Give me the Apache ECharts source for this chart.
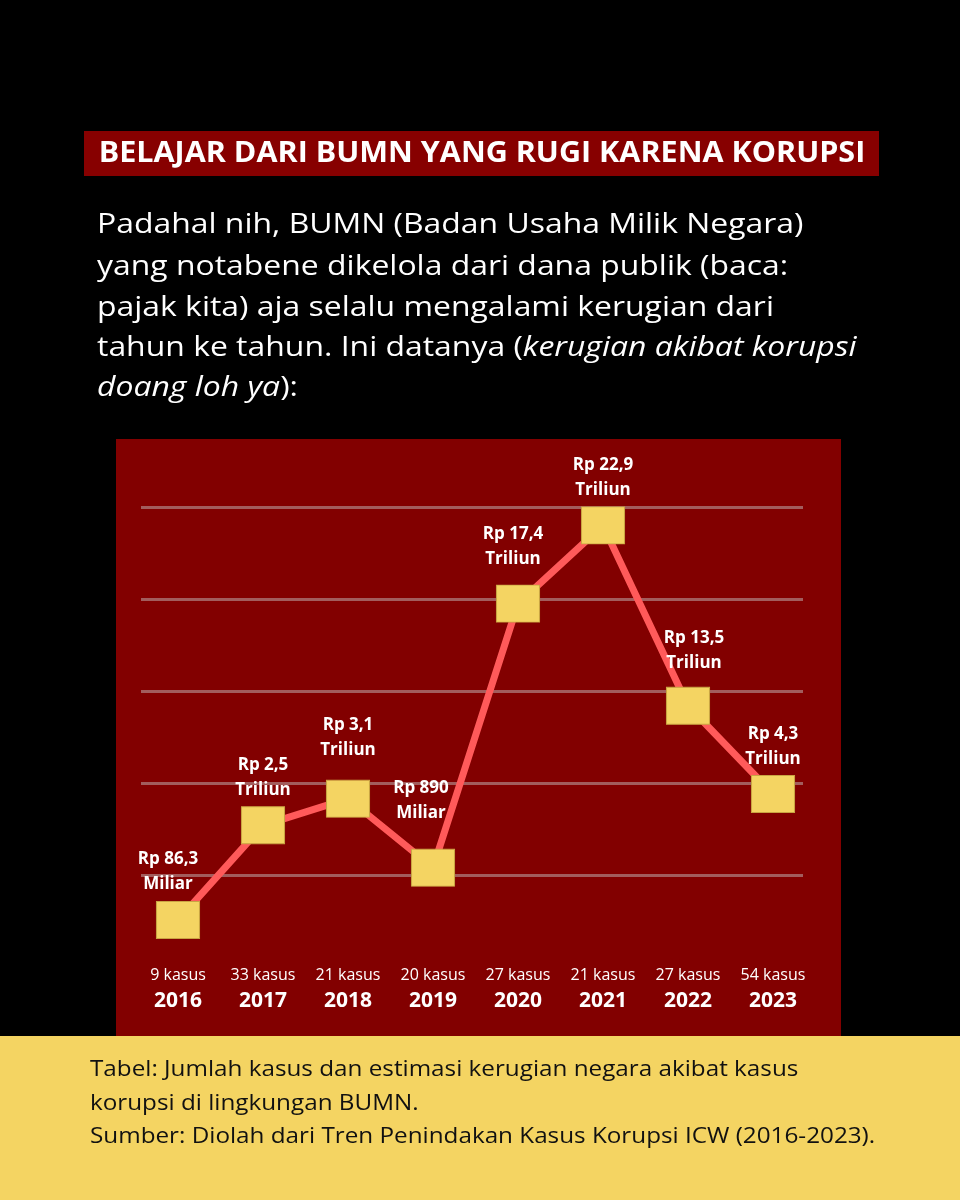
<!DOCTYPE html>
<html><head><meta charset="utf-8">
<script src="https://cdn.jsdelivr.net/npm/echarts@6/dist/echarts.min.js"></script>
<style>html,body{margin:0;padding:0;background:#000}#c{width:960px;height:1200px}</style>
</head><body><div id="c"></div>
<script>
// ---- data ----
const years = ['2016', '2017', '2018', '2019', '2020', '2021', '2022', '2023'];
const cases = [9, 33, 21, 20, 27, 21, 27, 54];
const lossValue = [86.3, 2.5, 3.1, 890, 17.4, 22.9, 13.5, 4.3];
const lossUnit = ['Miliar', 'Triliun', 'Triliun', 'Miliar', 'Triliun', 'Triliun', 'Triliun', 'Triliun'];
// the infographic is not to scale: plotted height of each marker, read in gridline units
const plotLevel = [0.51, 1.54, 1.83, 1.08, 3.95, 4.80, 2.84, 1.88];

// ---- layout / styling (not data) ----
const labelOffset = [[-10, 0], [0, 0], [0, -13], [-12, -19], [-5, -9], [0, 0], [6, -7], [0, 1]];
const FONT = "'Open Sans', sans-serif";

const chart = echarts.init(document.getElementById('c'), null, {renderer: 'canvas'});

const seriesData = plotLevel.map((v, i) => ({
  value: v,
  label: {offset: labelOffset[i]}
}));

const para = [
  {t: 'Padahal nih, BUMN (Badan Usaha Milik Negara)', y: 225},
  {t: 'yang notabene dikelola dari dana publik (baca:', y: 267},
  {t: 'pajak kita) aja selalu mengalami kerugian dari', y: 308},
  {t: 'tahun ke tahun. Ini datanya ({i|kerugian akibat korupsi}', y: 348},
  {t: '{i|doang loh ya}):', y: 388}
];

const foot = [
  {t: 'Tabel: Jumlah kasus dan estimasi kerugian negara akibat kasus', y: 1070},
  {t: 'korupsi di lingkungan BUMN.', y: 1104},
  {t: 'Sumber: Diolah dari Tren Penindakan Kasus Korupsi ICW (2016-2023).', y: 1137}
];

const graphics = [
  {type: 'rect', shape: {x: 84, y: 131, width: 795, height: 45}, style: {fill: '#870000'}, z: -10},
  {type: 'text', x: 482, y: 154, scaleX: 1.09,
    style: {x: 0, y: 0, text: 'BELAJAR DARI BUMN YANG RUGI KARENA KORUPSI', fill: '#fff',
    font: "bold 28px 'Open Sans', sans-serif", textAlign: 'center', textVerticalAlign: 'middle'}},
  {type: 'rect', shape: {x: 116, y: 439, width: 725, height: 597}, style: {fill: '#820000'}, z: -10},
  {type: 'rect', shape: {x: 0, y: 1036, width: 960, height: 164}, style: {fill: '#F4D462'}, z: -10}
];
para.forEach(p => graphics.push({
  type: 'text', x: 97, y: p.y, scaleX: 1.14,
  style: {
    x: 0, y: 0, text: p.t, fill: '#fff', fontFamily: 'Open Sans', fontSize: 28,
    textVerticalAlign: 'middle',
    rich: {i: {fontStyle: 'italic', fontFamily: 'Open Sans', fontSize: 28, fill: '#fff'}}
  }
}));
foot.forEach(p => graphics.push({
  type: 'text', x: 90, y: p.y, scaleX: 1.155,
  style: {x: 0, y: 0, text: p.t, fill: '#111', font: "21px 'Open Sans', sans-serif", textVerticalAlign: 'middle'}
}));

chart.setOption({
  backgroundColor: '#000',
  animation: false,
  graphic: graphics,
  grid: [
    {left: 141, width: 662, top: 507, height: 368},
    {left: 178, width: 595, top: 507, height: 460}
  ],
  xAxis: [
    {gridIndex: 0, type: 'value', min: 0, max: 1, show: false},
    {
      gridIndex: 1, type: 'category', data: years, boundaryGap: false,
      axisLine: {show: false}, axisTick: {show: false}, splitLine: {show: false},
      axisLabel: {
        margin: -3, interval: 0,
        formatter: (val, idx) => `{a|${cases[idx]} kasus}\n{b|${val}}`,
        rich: {
          a: {color: '#fff', fontSize: 16, fontFamily: FONT, lineHeight: 22},
          b: {color: '#fff', fontSize: 21, fontWeight: 'bold', fontFamily: FONT, lineHeight: 30}
        }
      }
    }
  ],
  yAxis: [
    {
      gridIndex: 0, type: 'value', min: 1, max: 5, interval: 1,
      axisLine: {show: false}, axisTick: {show: false}, axisLabel: {show: false},
      splitLine: {show: true, lineStyle: {color: 'rgba(190,170,170,0.55)', width: 3}}
    },
    {gridIndex: 1, type: 'value', min: 0, max: 5, show: false, splitLine: {show: false}}
  ],
  series: [{
    type: 'line',
    xAxisIndex: 1, yAxisIndex: 1,
    data: seriesData,
    symbol: 'rect', symbolSize: [43, 37],
    itemStyle: {color: '#F4D462', borderColor: '#C9A443', borderWidth: 1},
    lineStyle: {color: '#FF5A5A', width: 7},
    label: {
      show: true, position: 'top', distance: 4,
      color: '#fff', fontFamily: FONT, fontWeight: 'bold', fontSize: 17, lineHeight: 25,
      align: 'center',
      formatter: p => 'Rp ' + String(lossValue[p.dataIndex]).replace('.', ',') + '\n' + lossUnit[p.dataIndex]
    },
    z: 5
  }]
});
</script></body></html>
